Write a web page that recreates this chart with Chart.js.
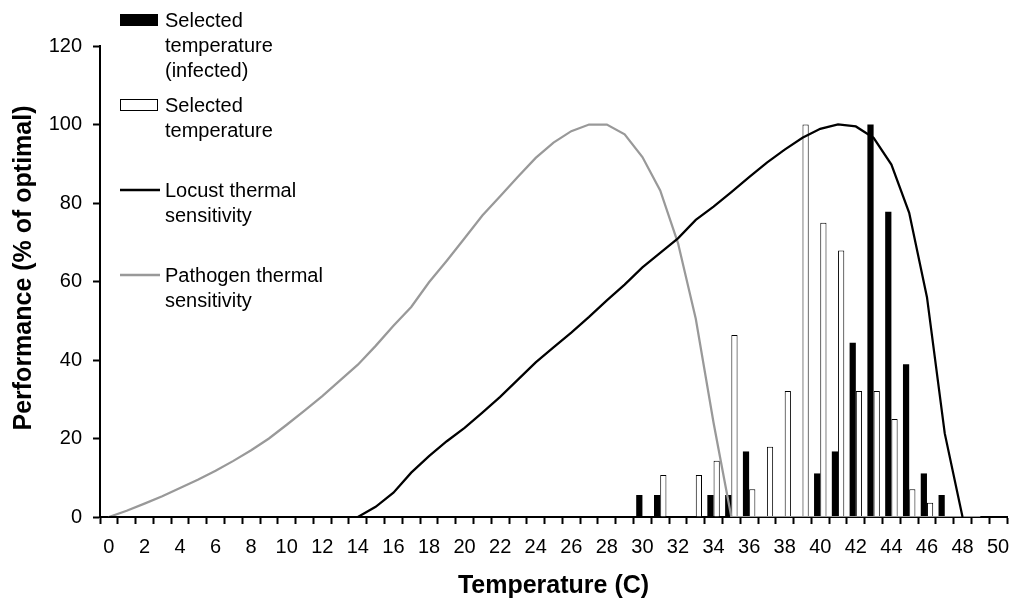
<!DOCTYPE html>
<html>
<head>
<meta charset="utf-8">
<script src="https://cdn.jsdelivr.net/npm/chart.js@4.4.1/dist/chart.umd.min.js"></script>
<style>
  html, body { margin: 0; padding: 0; background: #fff; }
</style>
</head>
<body>
<canvas id="thermal_chart" width="1013" height="598"></canvas>
<script>
// temperature categories (C)
var temps = [0, 1, 2, 3, 4, 5, 6, 7, 8, 9, 10, 11, 12, 13, 14, 15, 16, 17, 18, 19, 20,
  21, 22, 23, 24, 25, 26, 27, 28, 29, 30, 31, 32, 33, 34, 35, 36, 37, 38, 39, 40,
  41, 42, 43, 44, 45, 46, 47, 48, 49, 50];

// selected temperature, infected locusts (% of max)
var selInfected = [0, 0, 0, 0, 0, 0, 0, 0, 0, 0, 0, 0, 0, 0, 0, 0, 0, 0, 0, 0,
  0, 0, 0, 0, 0, 0, 0, 0, 0, 0,
  5.6, 5.6, 0, 0, 5.6, 5.6, 16.7, 0, 0, 0, 11.1, 16.7, 44.4, 100, 77.8, 38.9, 11.1, 5.6, 0, 0, 0];

// selected temperature, healthy locusts
var selHealthy = [0, 0, 0, 0, 0, 0, 0, 0, 0, 0, 0, 0, 0, 0, 0, 0, 0, 0, 0, 0,
  0, 0, 0, 0, 0, 0, 0, 0, 0, 0, 0,
  10.7, 0, 10.7, 14.3, 46.4, 7.1, 17.9, 32.1, 100, 75, 67.9, 32.1, 32.1, 25, 7.1, 3.6, 0, 0, 0, 0];

// performance curves
var locust = [0, 0, 0, 0, 0, 0, 0, 0, 0, 0, 0, 0, 0, 0, 0,
  2.6, 6.2, 11.3, 15.5, 19.3, 22.7, 26.6, 30.6, 35, 39.4, 43.2, 47, 51, 55.2, 59.2,
  63.6, 67.3, 71, 75.7, 79.1, 82.8, 86.6, 90.3, 93.6, 96.6, 98.9, 100, 99.5, 96.6,
  89.8, 77.5, 56, 21.3, 0, null, null];

var pathogen = [0, 1.6, 3.4, 5.3, 7.4, 9.5, 11.8, 14.3, 17, 20, 23.5, 27.1, 30.8, 34.8,
  38.8, 43.6, 48.7, 53.5, 59.8, 65.3, 71, 76.8, 81.7, 86.7, 91.5, 95.4, 98.3, 100, 100,
  97.5, 91.7, 83.2, 69.8, 50.5, 24, 0, 0, 0, 0, 0, 0, 0, 0, 0, 0, 0, 0, 0, 0, 0, null];

var yTicks = [0, 20, 40, 60, 80, 100, 120];

var seriesNames = [
  ['Selected', 'temperature', '(infected)'],
  ['Selected', 'temperature'],
  ['Locust thermal', 'sensitivity'],
  ['Pathogen thermal', 'sensitivity']
];
var xTitle = 'Temperature (C)';
var yTitle = 'Performance (% of optimal)';

var FONT = '"Liberation Sans", Arial, sans-serif';
var GREY = '#999999';

// excel-like legend inside the plot plus both axis titles
var decorations = {
  id: 'decorations',
  afterDraw: function (chart) {
    var ctx = chart.ctx;
    var area = chart.chartArea;
    ctx.save();

    ctx.fillStyle = '#000';
    ctx.font = 'bold 25px ' + FONT;
    ctx.textAlign = 'center';
    ctx.textBaseline = 'alphabetic';
    ctx.fillText(xTitle, (area.left + area.right) / 2, 593);

    ctx.save();
    ctx.translate(31, 268);
    ctx.rotate(-Math.PI / 2);
    ctx.fillText(yTitle, 0, 0);
    ctx.restore();

    ctx.font = '20px ' + FONT;
    ctx.textAlign = 'left';
    var mx = area.left + 20;
    for (var i = 0; i < seriesNames.length; i++) {
      var base = 27 + 85 * i;
      var ds = chart.data.datasets[i];
      if (ds.type === 'bar') {
        ctx.fillStyle = ds.backgroundColor;
        ctx.fillRect(mx, base - 13, 38, 12);
        ctx.strokeStyle = '#000';
        ctx.lineWidth = 1;
        ctx.strokeRect(mx + 0.5, base - 12.5, 37, 11);
      } else {
        ctx.strokeStyle = ds.borderColor;
        ctx.lineWidth = 2.5;
        ctx.beginPath();
        ctx.moveTo(mx, base - 7);
        ctx.lineTo(mx + 40, base - 7);
        ctx.stroke();
      }
      ctx.fillStyle = '#000';
      for (var j = 0; j < seriesNames[i].length; j++) {
        ctx.fillText(seriesNames[i][j], mx + 45, base + 25 * j);
      }
    }
    ctx.restore();
  }
};

var ctx = document.getElementById('thermal_chart');
var chart = new Chart(ctx, {
  data: {
    labels: temps,
    datasets: [{
      type: 'bar',
      label: 'Selected temperature (infected)',
      data: selInfected,
      backgroundColor: '#000000',
      borderColor: '#000000',
      borderWidth: 0,
      categoryPercentage: 0.7,
      barPercentage: 1.0,
      order: 2
    }, {
      type: 'bar',
      label: 'Selected temperature',
      data: selHealthy,
      backgroundColor: '#ffffff',
      borderColor: '#000000',
      borderWidth: 1,
      categoryPercentage: 0.7,
      barPercentage: 1.0,
      order: 3
    }, {
      type: 'line',
      label: 'Locust thermal sensitivity',
      data: locust,
      borderColor: '#000000',
      borderWidth: 2.25,
      pointRadius: 0,
      tension: 0,
      fill: false,
      order: 0
    }, {
      type: 'line',
      label: 'Pathogen thermal sensitivity',
      data: pathogen,
      borderColor: GREY,
      borderWidth: 2.25,
      pointRadius: 0,
      tension: 0,
      fill: false,
      order: 1
    }]
  },
  options: {
    responsive: false,
    animation: false,
    devicePixelRatio: 1,
    layout: {
      padding: { top: 46, right: 6, left: 0, bottom: 0 }
    },
    plugins: {
      legend: { display: false },
      tooltip: { enabled: false },
      title: { display: false }
    },
    scales: {
      x: {
        type: 'category',
        offset: true,
        grid: {
          offset: true,
          drawOnChartArea: false,
          drawTicks: true,
          tickLength: 7,
          tickWidth: 2,
          tickColor: '#000'
        },
        border: { display: true, color: '#000', width: 2 },
        ticks: {
          autoSkip: false,
          maxRotation: 0,
          padding: 11,
          color: '#000',
          font: { family: FONT, size: 20 },
          callback: function (value, index) {
            return index % 2 === 0 ? this.getLabelForValue(value) : '';
          }
        },
        afterFit: function (scale) {
          scale.height = 81;
          // end labels fit inside the layout padding, no extra inset
          scale.paddingLeft = 0;
          scale.paddingRight = 0;
        }
      },
      y: {
        min: yTicks[0],
        max: yTicks[yTicks.length - 1],
        afterBuildTicks: function (scale) {
          scale.ticks = yTicks.map(function (v) { return { value: v }; });
        },
        grid: {
          drawOnChartArea: false,
          drawTicks: true,
          tickLength: 7,
          tickWidth: 2,
          tickColor: '#000'
        },
        border: { display: true, color: '#000', width: 2 },
        ticks: {
          padding: 11,
          color: '#000',
          font: { family: FONT, size: 20 }
        },
        afterFit: function (scale) { scale.width = 100; }
      }
    }
  },
  plugins: [decorations]
});
</script>
</body>
</html>
